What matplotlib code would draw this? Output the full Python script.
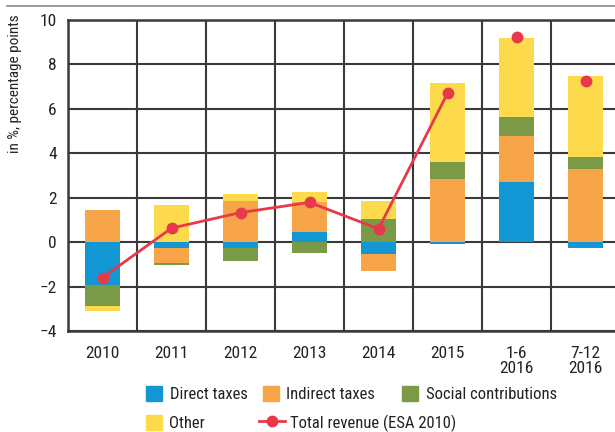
import matplotlib
matplotlib.use("Agg")
import matplotlib.pyplot as plt
from matplotlib import font_manager
from matplotlib.patches import Patch
from matplotlib.lines import Line2D
import numpy as np

# pick a narrow sans if one is installed
names = {f.name for f in font_manager.fontManager.ttflist}
narrow = [n for n in ['Liberation Sans Narrow', 'Roboto Condensed', 'DejaVu Sans Condensed',
                      'Open Sans Condensed'] if n in names]
plt.rcParams['font.family'] = narrow + ['DejaVu Sans']
if not narrow:
    plt.rcParams['font.stretch'] = 'condensed'

# contributions to revenue growth, percentage points
periods = ['2010', '2011', '2012', '2013', '2014', '2015', '1-6\n2016', '7-12\n2016']
direct = [-1.94, -0.27, -0.28, 0.45, -0.54, -0.10, 2.72, -0.26]
indirect = [1.44, -0.66, 1.86, 1.37, -0.75, 2.84, 2.07, 3.29]
social = [-0.94, -0.09, -0.56, -0.51, 1.04, 0.75, 0.84, 0.54]
other = [-0.22, 1.65, 0.29, 0.45, 0.81, 3.57, 3.57, 3.63]
total = [-1.60, 0.63, 1.33, 1.79, 0.60, 6.70, 9.22, 7.24]

series = [
    ('Direct taxes', direct, '#1296d4'),
    ('Indirect taxes', indirect, '#f8a54a'),
    ('Social contributions', social, '#7a9a48'),
    ('Other', other, '#fdd94c'),
]
red = '#e8394a'
grid_c = '#3a3a3a'

fig = plt.figure(figsize=(6.15, 4.32), dpi=100)
ax = fig.add_axes([68 / 615, 101 / 432, 552 / 615, 311 / 432])

x = np.arange(len(periods))
pos_base = np.zeros(len(periods))
neg_base = np.zeros(len(periods))
for name, vals, col in series:
    v = np.array(vals)
    base = np.where(v >= 0, pos_base, neg_base)
    ax.bar(x, v, 0.5, bottom=base, color=col, zorder=3, linewidth=0)
    pos_base += np.where(v >= 0, v, 0)
    neg_base += np.where(v < 0, v, 0)

# line joins the annual points, half-year points stand alone
ax.plot(x[:6], total[:6], color=red, lw=2, marker='o', ms=7.5, zorder=4)
ax.plot(x[6:], total[6:], color=red, lw=0, marker='o', ms=7.5, zorder=4)

ax.set_xlim(-0.5, len(periods) - 0.5)
ax.set_ylim(-4, 10)
ax.set_yticks(range(-4, 11, 2))
ax.set_yticklabels([str(t).replace('-', '\u2212') for t in range(-4, 11, 2)])
ax.set_xticks(x)
ax.set_xticklabels(periods, linespacing=1.0)
ax.set_xticks(np.arange(-0.5, len(periods), 1), minor=True)
ax.grid(True, which='minor', axis='x', color=grid_c, lw=1.5, zorder=1)
ax.grid(True, which='major', axis='y', color=grid_c, lw=1.5, zorder=1)
ax.tick_params(which='both', length=0, labelsize=12.5, colors='#222222')
ax.tick_params(axis='x', pad=11)
ax.tick_params(axis='y', pad=8)
for s in ['left', 'bottom', 'top']:
    ax.spines[s].set_color(grid_c)
    ax.spines[s].set_linewidth(1.8)
ax.spines['right'].set_visible(False)

fig.text(15 / 615, 1 - 84 / 432, 'in %, percentage points', rotation=90,
         ha='center', va='center', fontsize=11, color='#222222')

fig.add_artist(Line2D([7 / 615, 1], [1 - 5.5 / 432] * 2, color='#8a8a8a', lw=1.2))

# legend entries placed one by one: (handle, left px, centre px from top)
entries = [
    (Patch(color=series[0][2], label=series[0][0]), 146, 394),
    (Patch(color=series[1][2], label=series[1][0]), 263, 394),
    (Patch(color=series[2][2], label=series[2][0]), 402, 394),
    (Patch(color=series[3][2], label=series[3][0]), 146, 423),
    (Line2D([], [], color=red, lw=2, marker='o', ms=7.5, label='Total revenue (ESA 2010)'), 259, 423),
]
for h, px, py in entries:
    long_handle = isinstance(h, Line2D)
    fig.legend(handles=[h], loc='center left', bbox_to_anchor=(px / 615, 1 - py / 432),
               frameon=False, fontsize=12, borderpad=0, borderaxespad=0,
               handlelength=1.55 if long_handle else 0.96, handleheight=0.96,
               handletextpad=0.45 if not long_handle else 0.3, labelcolor='#222222')

fig.savefig('out.png', dpi=100)
